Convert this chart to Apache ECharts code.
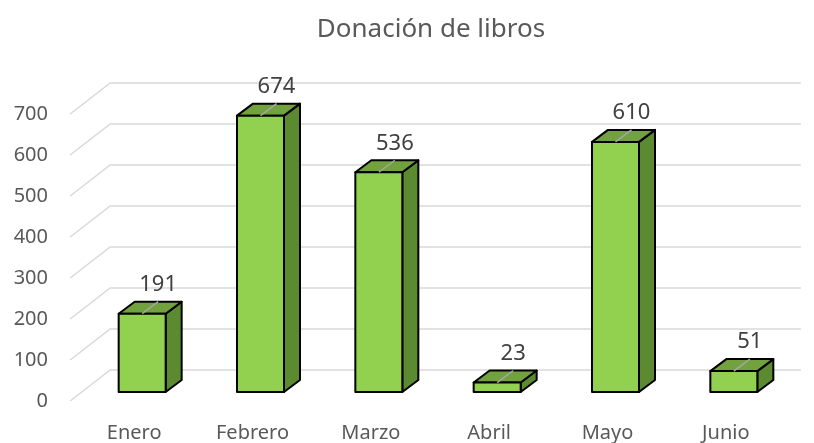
<!DOCTYPE html>
<html>
<head>
    <meta charset="utf-8">
    <title>Donación de libros</title>
    <script src="https://cdn.jsdelivr.net/npm/echarts@6/dist/echarts.min.js"></script>
    <style>
        html, body { margin: 0; padding: 0; background: #fff; }
    </style>
</head>
<body>
    <div id="main" style="width: 814px;height:443px;"></div>
    <script type="text/javascript">
        // datos
        var categories = ['Enero', 'Febrero', 'Marzo', 'Abril', 'Mayo', 'Junio'];
        var donations = [191, 674, 536, 23, 610, 51];
        var yTicks = [0, 100, 200, 300, 400, 500, 600, 700];

        var FONT = '"Noto Sans", sans-serif';
        // profundidad 3D (pared del fondo y caja de cada barra)
        var WALL = [40, -31];
        var BOX = [16, -12];
        var LIFT = -9;        // la base de las barras queda detrás del eje
        var HALF = 23.5;      // media anchura de la barra

        var myChart = echarts.init(document.getElementById('main'));

        var option = {
            animation: false,
            title: {
                text: 'Donación de libros',
                left: 426,
                top: 12,
                textAlign: 'center',
                textStyle: { fontFamily: FONT, fontSize: 26, fontWeight: 'normal', color: '#595959' }
            },
            grid: { left: 82, right: 22, top: 114, bottom: 42 },
            xAxis: {
                type: 'category',
                data: categories,
                axisLine: { show: false },
                axisTick: { show: false },
                axisLabel: {
                    margin: 22,
                    padding: [0, 14, 0, 0],
                    fontFamily: FONT, fontSize: 20, color: '#595959'
                }
            },
            yAxis: {
                type: 'value',
                min: 0, max: 700, interval: 100,
                splitLine: { show: false },
                axisLine: { show: false },
                axisLabel: { margin: 34, fontFamily: FONT, fontSize: 20, color: '#595959' }
            },
            series: [
                {
                    // lineas de division en perspectiva
                    type: 'custom',
                    silent: true,
                    z: 1,
                    data: yTicks.map(function (v) { return [0, v]; }),
                    renderItem: function (params, api) {
                        var p = api.coord([0, api.value(1)]);
                        var pr = api.coord([categories.length - 1, api.value(1)]);
                        var x0 = p[0] - 71;
                        return {
                            type: 'polyline',
                            shape: { points: [[x0, p[1]], [x0 + WALL[0], p[1] + WALL[1]], [pr[0] + 68, p[1] + WALL[1]]] },
                            style: { stroke: '#D9D9D9', lineWidth: 1.5, fill: null }
                        };
                    }
                },
                {
                    type: 'custom',
                    z: 2,
                    data: donations.map(function (v, i) { return [i, v]; }),
                    renderItem: function (params, api) {
                        var base = api.coord([api.value(0), 0]);
                        var top = api.coord([api.value(0), api.value(1)]);
                        var cx = base[0] + 1;
                        var x0 = cx - HALF, x1 = cx + HALF;
                        var yb = base[1] + LIFT, yt = top[1] + LIFT;
                        var line = { stroke: '#000', lineWidth: 2, lineJoin: 'round' };
                        return {
                            type: 'group',
                            children: [
                                {
                                    type: 'polygon',
                                    shape: { points: [[x1, yt], [x1 + BOX[0], yt + BOX[1]], [x1 + BOX[0], yb + BOX[1]], [x1, yb]] },
                                    style: Object.assign({ fill: '#5B8A31' }, line)
                                },
                                {
                                    type: 'polygon',
                                    shape: { points: [[x0, yt], [x1, yt], [x1 + BOX[0], yt + BOX[1]], [x0 + BOX[0], yt + BOX[1]]] },
                                    style: Object.assign({ fill: '#71A23E' }, line)
                                },
                                {
                                    type: 'rect',
                                    shape: { x: x0, y: yt, width: x1 - x0, height: yb - yt },
                                    style: Object.assign({ fill: '#92D050' }, line)
                                },
                                {
                                    type: 'line',
                                    shape: { x1: cx, y1: yt, x2: cx + BOX[0], y2: yt + BOX[1] },
                                    style: { stroke: '#A6A6A6', lineWidth: 1.5 }
                                },
                                {
                                    type: 'text',
                                    x: cx + BOX[0],
                                    y: yt + BOX[1] - 17,
                                    style: {
                                        text: String(api.value(1)),
                                        align: 'center', verticalAlign: 'middle',
                                        fontFamily: FONT, fontSize: 22, fill: '#404040'
                                    }
                                }
                            ]
                        };
                    }
                }
            ]
        };

        myChart.setOption(option);
    </script>
</body>
</html>
